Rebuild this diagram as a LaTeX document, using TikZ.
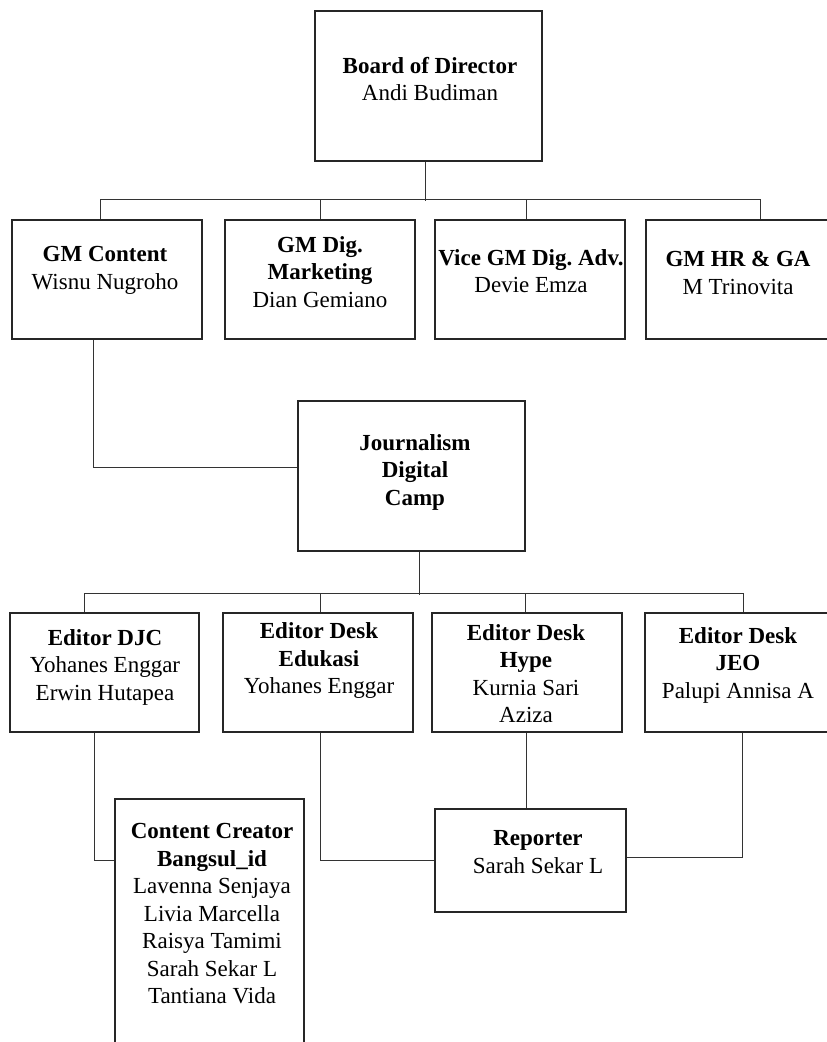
\documentclass[tikz,border=0pt]{standalone}
\usepackage{fontspec}
\setmainfont{Liberation Serif}
\frenchspacing
\begin{document}
\begin{tikzpicture}[x=1pt,y=-1pt,
  box/.style={draw=black!85, line width=1.1pt, fill=none, inner sep=0pt},
  txt/.style={align=center, inner sep=0pt, font=\fontsize{23}{27.5}\selectfont},
  conn/.style={draw=black!80, line width=0.9pt}]
\useasboundingbox (0,0) rectangle (827,1042);
% boxes
\node[box, minimum width=227pt, minimum height=150pt] (board) at (428.5,86) {};
\node[box, minimum width=190pt, minimum height=119pt] (gmc) at (107,279.5) {};
\node[box, minimum width=190pt, minimum height=119pt] (gmd) at (320,279.5) {};
\node[box, minimum width=190pt, minimum height=119pt] (vgm) at (530,279.5) {};
\node[box, minimum width=210pt, minimum height=119pt] (gmhr) at (751,279.5) {};
\node[box, minimum width=227pt, minimum height=150pt] (jdc) at (411.5,476) {};
\node[box, minimum width=189pt, minimum height=119pt] (edjc) at (104.5,672.5) {};
\node[box, minimum width=190pt, minimum height=119pt] (eedu) at (318,672.5) {};
\node[box, minimum width=190pt, minimum height=119pt] (ehype) at (527,672.5) {};
\node[box, minimum width=210pt, minimum height=119pt] (ejeo) at (750,672.5) {};
\node[box, minimum width=189pt, minimum height=281pt] (cc) at (209.5,939.5) {};
\node[box, minimum width=191pt, minimum height=103pt] (rep) at (530.5,860.5) {};
% texts
\node[txt] (tboard) at (430,79) {\textbf{Board of Director}\\Andi Budiman};
\node[txt] (tgmc) at (105,270.5) {\textbf{GM Content}\\Wisnu Nugroho};
\node[txt] (tgmd) at (320,272) {\textbf{GM Dig.}\\\textbf{Marketing}\\Dian Gemiano};
\node[txt] (tvgm) at (531,271) {\textbf{Vice GM Dig. Adv.}\\Devie Emza};
\node[txt] (tgmhr) at (738,273) {\textbf{GM HR \& GA}\\M Trinovita};
\node[txt] (tjdc) at (415,472) {\textbf{Journalism}\\\textbf{Digital}\\\textbf{Camp}};
\node[txt] (tedjc) at (105,667) {\textbf{Editor DJC}\\Yohanes Enggar\\Erwin Hutapea};
\node[txt] (teedu) at (319,660.5) {\textbf{Editor Desk}\\\textbf{Edukasi}\\Yohanes Enggar};
\node[txt] (tehype) at (526,673.5) {\textbf{Editor Desk}\\\textbf{Hype}\\Kurnia Sari\\Aziza};
\node[txt] (tejeo) at (738,665) {\textbf{Editor Desk}\\\textbf{JEO}\\Palupi Annisa A};
\node[txt] (tcc) at (212,914) {\textbf{Content Creator}\\\textbf{Bangsul\_id}\\Lavenna Senjaya\\Livia Marcella\\Raisya Tamimi\\Sarah Sekar L\\Tantiana Vida};
\node[txt] (trep) at (538,852) {\textbf{Reporter}\\Sarah Sekar L};
% connectors level 1
\draw[conn] ([xshift=-3.5pt]board.south) -- ++(0,39);
\draw[conn] ([xshift=-7pt]gmc.north) -- ++(0,-20) -| ([xshift=9pt]gmhr.north);
\draw[conn] (gmd.north) -- ++(0,-20);
\draw[conn] ([xshift=-4pt]vgm.north) -- ++(0,-20);
\draw[conn] ([xshift=-14pt]gmc.south) |- ([yshift=9pt]jdc.west);
% connectors level 2
\draw[conn] ([xshift=7.5pt]jdc.south) -- ++(0,43);
\draw[conn] ([xshift=-20.5pt]edjc.north) -- ++(0,-19) -| ([xshift=-7pt]ejeo.north);
\draw[conn] ([xshift=2pt]eedu.north) -- ++(0,-19);
\draw[conn] ([xshift=-2pt]ehype.north) -- ++(0,-19);
% connectors level 3
\draw[conn] ([xshift=-10.5pt]edjc.south) |- ([yshift=79.5pt]cc.west);
\draw[conn] ([xshift=2pt]eedu.south) |- (rep.west);
\draw[conn] ([xshift=-1pt]ehype.south) -- ([xshift=-1pt]ehype.south |- rep.north);
\draw[conn] ([xshift=-8pt]ejeo.south) |- ([yshift=3.5pt]rep.east);
\end{tikzpicture}
\end{document}
